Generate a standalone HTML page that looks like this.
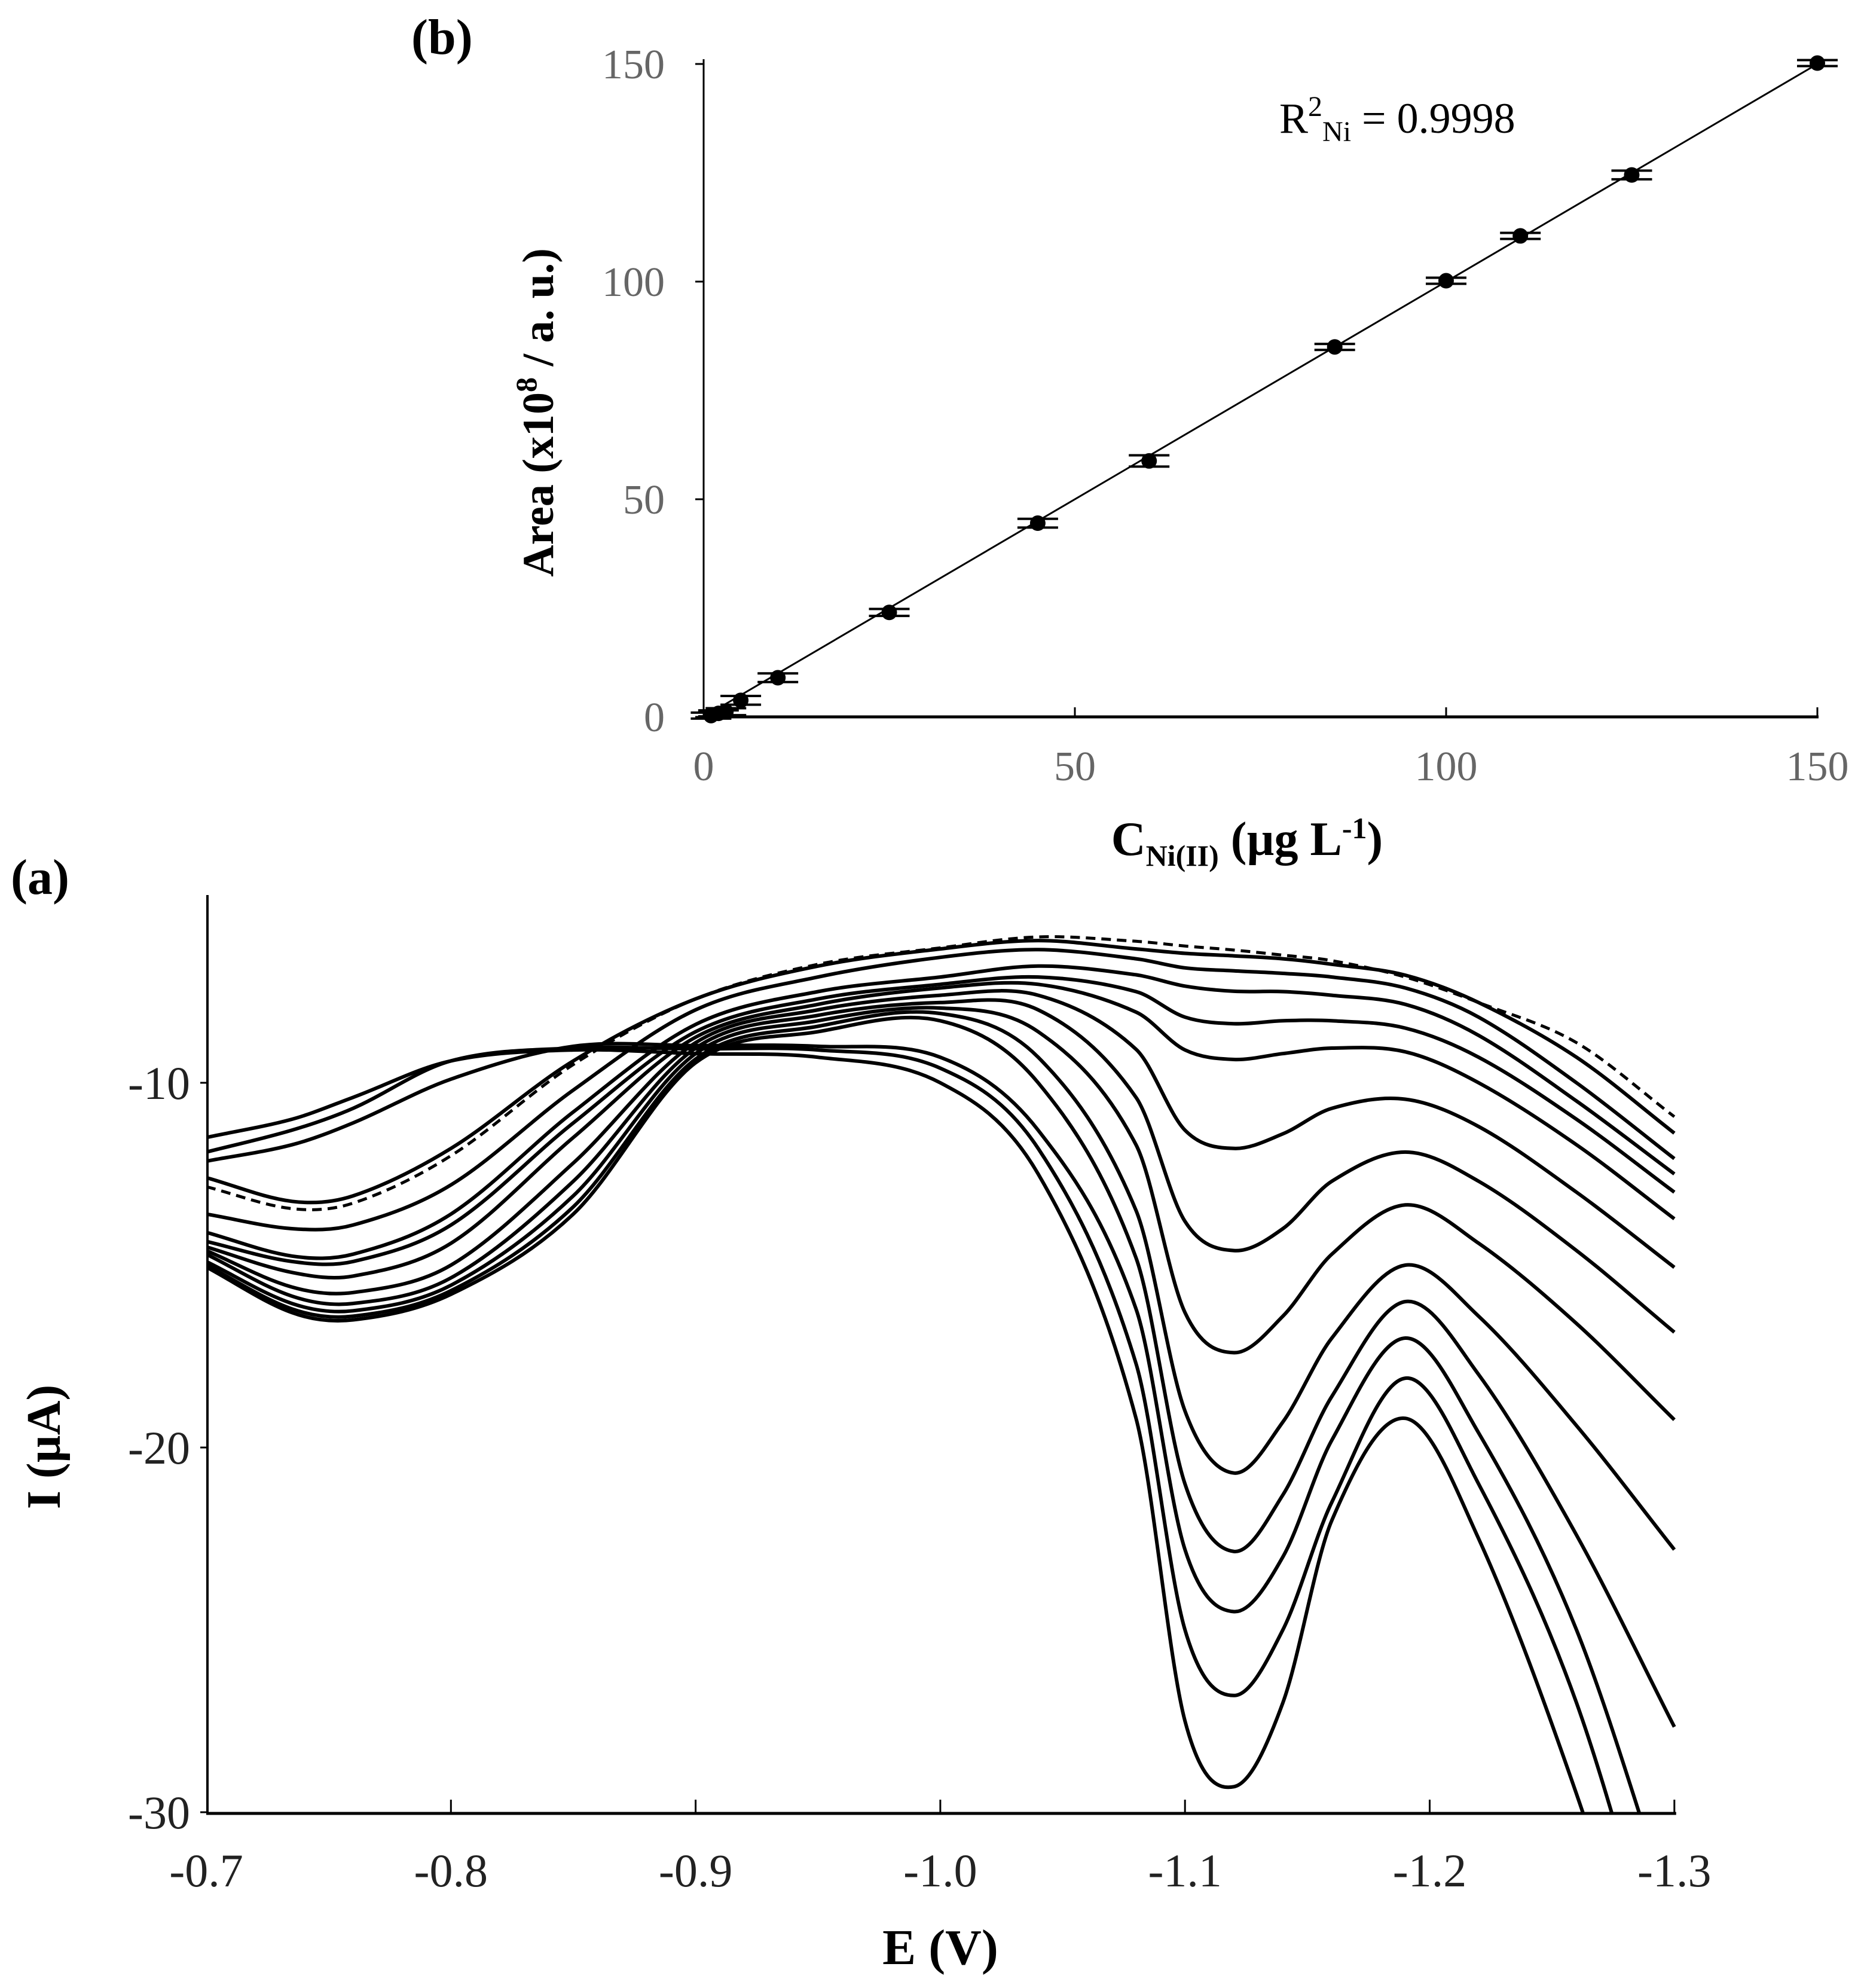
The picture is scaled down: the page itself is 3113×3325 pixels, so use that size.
<!DOCTYPE html>
<html><head><meta charset="utf-8"><style>
html,body{margin:0;padding:0;background:#fff;overflow:hidden;width:3113px;height:3325px}
svg{display:block;overflow:hidden}
text{font-family:"Liberation Serif",serif}
</style></head><body>
<svg id="chart" width="3113" height="3325" viewBox="0 0 3113 3325" xmlns="http://www.w3.org/2000/svg">
<defs><clipPath id="clipA"><rect x="345" y="1470" width="2480" height="1563"/></clipPath></defs>
<g id="panelB"></g>
<g id="panelA"></g>
</svg>
<script>
// ---------- Panel (b) data ----------
const concB = [1, 2, 3, 5, 10, 25, 45, 60, 85, 100, 110, 125, 150];
const areaB = [0.3, 0.8, 1.2, 3.8, 9, 24, 44.5, 58.8, 85, 100.2, 110.5, 124.5, 150.2];
const errB  = [0.3, 0.5, 0.8, 1, 1, 0.8, 1, 1.3, 0.6, 0.7, 0.7, 1, 0.5];
const fitB  = [0.5, 150];
const xTicksB = [0, 50, 100, 150];
const yTicksB = [0, 50, 100, 150];

// ---------- Panel (a) data ----------
const potentialsA = [-0.70,-0.735,-0.76,-0.80,-0.85,-0.90,-0.95,-1.00,-1.04,-1.08,-1.10,-1.12,-1.14,-1.16,-1.19,-1.22,-1.26,-1.30];
const blankA  = [-12.85,-13.45,-13.3,-12.0,-9.5,-7.7,-6.75,-6.3,-6.0,-6.12,-6.25,-6.36,-6.5,-6.65,-7.1,-7.8,-8.9,-10.93];
const curve1  = [-12.6,-13.25,-13.1,-11.8,-9.4,-7.7,-6.8,-6.33,-6.1,-6.33,-6.45,-6.52,-6.6,-6.75,-7.05,-7.8,-9.3,-11.38];
const curve2  = [-13.6,-14.0,-13.9,-12.8,-10.2,-8.0,-7.1,-6.56,-6.35,-6.6,-6.85,-6.93,-7.0,-7.1,-7.4,-8.2,-10.0,-12.08];
const curve3  = [-14.1,-14.75,-14.7,-13.6,-10.8,-8.4,-7.5,-7.1,-6.8,-7.04,-7.35,-7.49,-7.5,-7.6,-7.85,-8.7,-10.5,-12.5];
const curve4  = [-14.35,-14.9,-14.9,-13.9,-11.1,-8.6,-7.7,-7.3,-7.1,-7.5,-8.2,-8.38,-8.3,-8.3,-8.5,-9.3,-11.0,-13.0];
const curve5  = [-14.5,-15.2,-15.3,-14.4,-11.5,-8.75,-7.85,-7.4,-7.3,-8.06,-9.1,-9.36,-9.2,-9.05,-9.15,-10.0,-11.7,-13.73];
const curve6  = [-14.6,-15.6,-15.75,-15.0,-12.2,-8.9,-8.0,-7.6,-7.6,-9.08,-11.3,-11.8,-11.4,-10.7,-10.45,-11.2,-13.0,-15.06];
const curve7  = [-14.7,-15.85,-16.05,-15.35,-12.7,-9.05,-8.15,-7.8,-8.0,-10.4,-13.8,-14.6,-14.0,-12.7,-11.9,-12.7,-14.6,-16.84];
const curve8  = [-14.9,-16.05,-16.25,-15.55,-13.1,-9.2,-8.3,-7.95,-8.6,-11.7,-16.3,-17.4,-16.4,-14.7,-13.35,-14.4,-16.6,-19.24];
const curve9  = [-15.0,-16.2,-16.4,-15.7,-13.4,-9.35,-8.45,-8.1,-9.3,-13.5,-19.0,-20.7,-19.3,-17.0,-15.0,-16.4,-19.4,-22.8];
const curve10 = [-15.05,-16.3,-16.5,-15.8,-13.6,-9.45,-8.6,-8.3,-10.0,-14.8,-21.0,-22.85,-21.3,-18.6,-16.0,-18.0,-22.4,-27.66];
const curve11 = [-12.15,-11.7,-11.1,-9.9,-9.0,-8.98,-9.0,-9.3,-11.3,-16.2,-22.8,-24.5,-23.0,-19.8,-17.0,-19.6,-25.0,-33];
const curve12 = [-11.9,-11.3,-10.7,-9.4,-9.05,-9.07,-9.1,-9.6,-11.8,-17.7,-25.0,-26.8,-25.0,-21.5,-18.1,-21.0,-27.0,-36];
const curve13 = [-11.5,-11.0,-10.4,-9.4,-9.1,-9.2,-9.3,-10.0,-12.5,-19.2,-27.5,-29.3,-27.0,-22.0,-19.2,-22.5,-29.5,-38];
const seriesA = [curve1,curve2,curve3,curve4,curve5,curve6,curve7,curve8,curve9,curve10,curve11,curve12,curve13];
const xTicksA = [-0.7,-0.8,-0.9,-1.0,-1.1,-1.2,-1.3];
const xTickLabelsA = ["-0.7","-0.8","-0.9","-1.0","-1.1","-1.2","-1.3"];
const yTicksA = [-10,-20,-30];

const NS = "http://www.w3.org/2000/svg";
function mk(tag, attrs, parent){const e=document.createElementNS(NS,tag);for(const k in attrs)e.setAttribute(k,attrs[k]);parent.appendChild(e);return e;}

// ---------- Panel B ----------
const gB = document.getElementById('panelB');
const xB = c => 1177 + c*12.42;
const yB = a => 1199 - a*7.28;
let e;
e = mk('line',{x1:1177,y1:yB(150)-8,x2:1177,y2:1199,stroke:'#000','stroke-width':3},gB);
 
e = mk('line',{x1:1177,y1:1199,x2:xB(150)+2,y2:1199,stroke:'#000','stroke-width':5},gB);
 
yTicksB.forEach(v=>{
  e = mk('line',{x1:1163,y1:yB(v),x2:1177,y2:yB(v),stroke:'#000','stroke-width':3},gB);
   
  e = mk('text',{x:1112,y:yB(v)+24,'font-size':70,fill:'#666','text-anchor':'end'},gB);
  e.textContent=v;
   
});
xTicksB.forEach(v=>{
  if(v>0){e = mk('line',{x1:xB(v),y1:1183,x2:xB(v),y2:1199,stroke:'#000','stroke-width':3},gB);
   }
  e = mk('text',{x:xB(v),y:1305,'font-size':70,fill:'#666','text-anchor':'middle'},gB);
  e.textContent=v;
   
});
e = mk('line',{x1:xB(fitB[0]),y1:yB(fitB[0]),x2:xB(fitB[1]),y2:yB(fitB[1]),stroke:'#000','stroke-width':3},gB);
 
concB.forEach((c,i)=>{
  const px=xB(c), py=yB(areaB[i]), d=Math.max(errB[i]*7.28,5);
  [py-d,py+d].forEach(yy=>{
    e = mk('line',{x1:px-34,y1:yy,x2:px+34,y2:yy,stroke:'#000','stroke-width':4},gB);
     
  });
  e = mk('circle',{cx:px,cy:py,r:13,fill:'#000'},gB);
   
});
e = mk('text',{x:2140,y:222,'font-size':72,fill:'#000'},gB);
e.innerHTML='R<tspan dy="-28" font-size="48">2</tspan><tspan dy="42" font-size="48">Ni</tspan><tspan dy="-14"> = 0.9998</tspan>';
 
e = mk('text',{x:0,y:0,'font-size':74,'font-weight':'bold',fill:'#000','text-anchor':'middle',transform:'translate(925,690) rotate(-90)'},gB);
e.innerHTML='Area (x10<tspan dy="-28" font-size="50">8</tspan><tspan dy="28"> / a. u.)</tspan>';
 
e = mk('text',{x:2086,y:1430,'font-size':80,'font-weight':'bold',fill:'#000','text-anchor':'middle'},gB);
e.innerHTML='C<tspan dy="18" font-size="50">Ni(II)</tspan><tspan dy="-18"> (µg L</tspan><tspan dy="-28" font-size="50">-1</tspan><tspan dy="28">)</tspan>';
 
e = mk('text',{x:688,y:90,'font-size':84,'font-weight':'bold',fill:'#000'},gB);
e.textContent='(b)';
 

// ---------- Panel A ----------
const gA = document.getElementById('panelA');
const xA = E => 345 + (-0.7 - E)/0.1*409.3;
const yA = I => 1811 + (-10 - I)*61;
e = mk('line',{x1:347,y1:1497,x2:347,y2:3033,stroke:'#000','stroke-width':4},gA);
 
e = mk('line',{x1:345,y1:3033,x2:xA(-1.3)+3,y2:3033,stroke:'#000','stroke-width':5},gA);
 
xTicksA.forEach((v,i)=>{
  if(i>0){e = mk('line',{x1:xA(v),y1:3010,x2:xA(v),y2:3033,stroke:'#000','stroke-width':3},gA);
   }
  e = mk('text',{x:xA(v),y:3155,'font-size':78,fill:'#222','text-anchor':'middle'},gA);
  e.textContent=xTickLabelsA[i];
   
});
yTicksA.forEach(v=>{
  e = mk('line',{x1:335,y1:yA(v),x2:347,y2:yA(v),stroke:'#000','stroke-width':3},gA);
   
  e = mk('text',{x:318,y:yA(v)+27,'font-size':78,fill:'#222','text-anchor':'end'},gA);
  e.textContent=v;
   
});
// Hermite spline with x-aware tangents
function smoothPath(xs, ys){
  const n = xs.length;
  const px = xs.map(xA), py = ys.map(yA);
  const m = [];
  for(let i=0;i<n;i++){
    const a=Math.max(0,i-1), b=Math.min(n-1,i+1);
    m.push((py[b]-py[a])/(px[b]-px[a]));
  }
  let d='M'+px[0].toFixed(1)+','+py[0].toFixed(1);
  for(let i=0;i<n-1;i++){
    const h=(px[i+1]-px[i])/3;
    d+=' C'+(px[i]+h).toFixed(1)+','+(py[i]+m[i]*h).toFixed(1)+' '+(px[i+1]-h).toFixed(1)+','+(py[i+1]-m[i+1]*h).toFixed(1)+' '+px[i+1].toFixed(1)+','+py[i+1].toFixed(1);
  }
  return d;
}
const gC = mk('g',{'clip-path':'url(#clipA)'},gA);


e = mk('path',{d:smoothPath(potentialsA,blankA),fill:'none',stroke:'#000','stroke-width':5,'stroke-dasharray':'16,10'},gC);
 
seriesA.forEach((s,i)=>{
  e = mk('path',{d:smoothPath(potentialsA,s),fill:'none',stroke:'#000','stroke-width':6},gC);
   
});
e = mk('text',{x:0,y:0,'font-size':80,'font-weight':'bold',fill:'#000','text-anchor':'middle',transform:'translate(100,2420) rotate(-90)'},gA);
e.textContent='I (µA)';
 
e = mk('text',{x:1573,y:3285,'font-size':84,'font-weight':'bold',fill:'#000','text-anchor':'middle'},gA);
e.textContent='E (V)';
 
e = mk('text',{x:18,y:1495,'font-size':84,'font-weight':'bold',fill:'#000'},gA);
e.textContent='(a)';
 
</script>
</body></html>
